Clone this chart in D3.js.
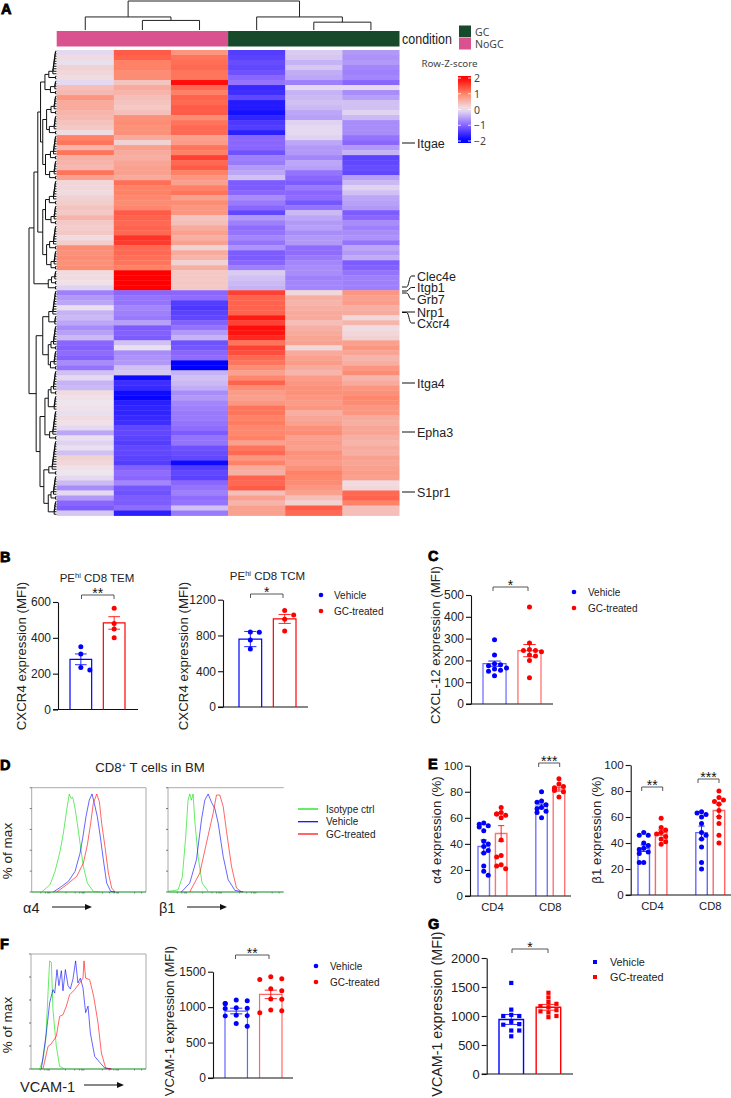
<!DOCTYPE html>
<html><head><meta charset="utf-8">
<style>html,body{margin:0;padding:0;background:#fff}svg{display:block}text{font-family:"Liberation Sans",Arial,sans-serif;fill:#222}</style>
<script src="https://cdn.jsdelivr.net/npm/d3@7/dist/d3.min.js"></script>
</head><body><svg id="c" width="731" height="1098"></svg>
<script>
// ---------- Heatmap data (row z-scores) ----------
const heatColumns = ["NoGC1","NoGC2","NoGC3","GC1","GC2","GC3"];
const z1 = [-0.1,0.1,-0.05,0.2,0.15,0.1,-0.1,0.4,0.45,0.8,0.6,0.6,0.5,0.45,0.35,0.3,0.1,1.0,1.1,0.5,1.1,0.55,0.5,0.45,1.1,0.7,0.15,0.15,0.1,0.2,0.25,0.35,0.3,0.5,0.3,0.25,0.3,0.1,0.25,0.9,0.85,0.9,0.85,0.9,0.1,0.1,0.05,-0.15,
 -0.8,-0.6,-0.5,-0.05,-0.4,-0.35,-0.5,-0.7,-0.55,-0.35,-1.0,-1.05,-0.95,-1.05,-0.7,-0.9,-0.3,-0.1,-0.4,-0.35,0.1,0.05,0,0.05,-0.05,0.1,0.05,-0.1,-0.5,-0.05,-0.15,-0.05,-0.3,0.2,0.15,0.05,0,-0.1,-0.35,-0.7,-0.1,-0.6,-1.0,-1.1,-0.25];
const z2 = [1.3,1.25,1.0,1.0,0.9,0.9,0.35,0.6,0.5,0.4,0.35,0.3,0.4,0.85,0.9,0.85,0.85,0.6,0.2,0.7,0.6,0.55,0.65,0.7,0.7,0.6,1.15,1.0,1.0,0.95,0.9,0.95,1.3,1.25,1.2,1.25,1.2,1.6,1.55,1.2,1.2,1.15,1.1,1.0,2,2,2,2,
 -1.0,-0.9,-0.9,-0.75,-0.8,-0.85,-0.55,-1.1,-1.05,-1.1,-0.3,-0.05,-0.7,-0.65,-0.6,-0.3,-0.25,-1.9,-1.55,-1.6,-1.9,-1.95,-1.7,-1.65,-1.65,-1.6,-1.55,-1.3,-1.3,-1.35,-1.4,-1.3,-1.3,-1.35,-1.4,-1.05,-0.95,-1.0,-0.75,-1.15,-1.2,-1.1,-1.1,-0.95,-1.7];
const z3 = [0.8,1.1,1.15,1.2,1.1,1.1,1.9,1.2,1.0,1.25,1.2,1.3,1.3,0.9,1.1,1.2,1.2,0.7,0.75,1.1,1.0,1.5,1.2,1.3,1.0,0.8,0.7,1.0,1.1,0.7,0.9,0.8,0.8,0.35,0.4,0.6,0.7,0.55,0.7,0.2,0.6,0.5,0.2,0.55,0.3,0.3,0.3,0.3,
 -1.0,-0.95,-1.4,-1.45,-1.35,-1.3,-1.05,-0.9,-0.6,-0.4,-1.2,-1.15,-1.0,-0.95,-2,-2,-0.4,-0.3,-0.35,-0.45,-0.7,-0.6,-0.75,-0.8,-0.85,-0.85,-0.9,-0.95,-1.1,-0.9,-0.9,-1.2,-1.25,-1.3,-1.9,-1.4,-1.3,-1.35,-1.0,-0.9,-0.8,-0.95,-0.9,-0.3,-0.85];
const z4 = [-1.4,-1.35,-1.25,-1.3,-1.2,-1.0,-0.9,-1.6,-1.55,-1.3,-1.75,-1.75,-1.85,-1.65,-1.45,-1.4,-1.7,-1.0,-1.0,-1.0,-1.2,-0.8,-0.85,-0.6,-0.5,-0.3,-1.1,-1.1,-1.0,-0.7,-0.85,-1.0,-1.3,-0.6,-0.8,-0.95,-0.9,-0.75,-0.9,-0.65,-1.1,-1.1,-1.0,-0.8,-0.2,-0.3,-0.35,-0.4,
 1.5,1.25,1.25,1.25,1.25,1.8,1.5,1.9,1.85,1.7,1.1,1.5,1.4,1.2,1.1,0.9,0.7,0.95,1.25,0.9,0.75,0.7,0.8,1.1,1.1,1.0,1.05,0.95,0.95,1.0,0.7,1.1,1.2,0.8,1.0,0.6,0.55,1.25,1.2,1.3,0.4,0.7,0.5,0.7,0.7];
const z5 = [-0.2,-0.25,-0.4,-0.25,-0.45,-0.5,-0.8,-0.1,-0.4,-0.35,-0.3,-0.35,-0.5,-0.55,-0.15,-0.1,-0.1,-0.15,-0.5,-0.6,-0.6,-0.75,-0.5,-0.55,-0.9,-1.0,-1.1,-0.85,-1.0,-0.95,-1.15,-0.9,-0.35,-0.5,-0.6,-0.55,-0.7,-0.6,-0.6,-0.95,-0.95,-0.85,-0.75,-0.7,-0.7,-0.8,-0.75,-0.75,
 0.15,0.55,0.5,0.55,0.6,0.6,0.4,0.55,0.6,0.65,0.7,0.15,0.6,0.7,0.75,0.6,0.5,0.75,0.8,0.85,0.85,0.8,0.75,0.8,0.55,0.65,0.7,0.85,0.9,0.7,0.75,0.7,0.85,0.8,0.75,0.85,1.0,0.95,0.9,0.8,0.7,0.4,0.2,1.3,1.2];
const z6 = [-0.6,-0.65,-0.6,-0.75,-0.8,-0.75,-1.0,-0.1,-0.7,-0.55,-0.3,-0.3,-0.15,-0.35,-0.7,-0.7,-0.7,-0.9,-1.0,-0.6,-0.4,-1.35,-1.3,-1.25,-1.3,-0.55,-0.35,-0.15,-0.3,-0.5,-0.55,-0.6,-1.1,-1.0,-0.7,-0.8,-0.7,-0.65,-0.9,-0.5,-0.6,-0.45,-1.1,-1.05,-0.9,-0.8,-0.8,-0.8,
 0.8,0.7,0.75,0.55,0.6,0.15,0.5,0.1,0.15,0.2,0.7,0.8,0.65,0.5,0.55,0.8,0.9,0.5,0.6,0.8,0.85,0.95,0.9,0.8,0.8,0.6,0.55,0.65,0.65,0.55,0.5,0.6,0.55,0.7,0.65,0.7,0.75,0.7,0.1,0.15,1.2,1.25,1.0,0.4,0.4];
const zLegendTicks = [2,1,0,-1,-2];
const conditionNames = ["GC","NoGC"];
const geneNames = ["Itgae","Clec4e","Itgb1","Grb7","Nrp1","Cxcr4","Itga4","Epha3","S1pr1"];
// dendrograms: [height, child, child]; a bare number is a clade of that many pairs of leaves
const colTree = [1,[0.45,0,[0.33,1,2]],[0.45,3,[0.27,4,5]]];
const A1=[.42,[.28,5,1],[.22,2,1]],A2=[.36,[.2,3,1],[.26,3,1]],A3=[.40,[.22,4,1],[.25,3,1]],B1=[.4,[.26,4,1],[.2,3,1]],B2=[.36,[.25,4,1],[.2,3,1]];
const C1=[.5,[.28,5,2],[.3,[.2,4,1],[.22,3,1]]],D1=[.42,[.3,[.2,4,1],3],[.25,5,1]],E1=[.46,[.28,6,1],[.3,[.2,4,1],3]];
const rowTree = [1,[.82,[.68,[.58,A1,[.5,A2,A3]],[.5,B1,B2]],[.3,[.18,2,1],1]],[.74,C1,[.6,D1,E1]]];

// ---------- Bar panel data ----------
const groups2 = ["Vehicle","GC-treated"];
const legendD = ["Isotype ctrl","Vehicle","GC-treated"];
const bTemVeh=[350,310,235,220], bTemGC=[565,480,450,400];
const bTcmVeh=[840,835,750,650], bTcmGC=[1080,1030,980,850];
const cVeh=[295,225,185,180,175,165,160,155,150,130], cGC=[445,280,250,245,245,240,225,220,200,120];
const e1Cd4Veh=[56,55,54,53,50,42,40,38,35,33,23,19,16], e1Cd4GC=[68,64,63,63,62,60,43,31,30,24,23,21];
const e1Cd8Veh=[80,73,72,70,68,67,65,64,60], e1Cd8GC=[90,86,84,83,82,81,80,76];
const e2Cd4Veh=[48,46,46,40,38,36,35,33,32,25,25], e2Cd4GC=[59,52,50,48,47,45,43,41,39];
const e2Cd8Veh=[64,63,62,60,55,48,46,43,37,25,20], e2Cd8GC=[80,75,73,72,70,65,60,55,46,40];
const fVeh=[1100,1090,1050,1050,990,985,980,885,880,875,770,730], fGC=[1430,1400,1390,1260,1230,1115,1110,960,950,920];
const gVeh=[1570,1110,1020,1000,1000,900,860,850,750,750,650], gGC=[1400,1320,1240,1210,1170,1150,1100,1080,1060,1000,980];

// ---------- Flow cytometry traces (percent of axis width, percent of max) ----------
const d1GreenX=[8.7,16,20.4,24.8,27.7,30.6,32.9,34.4,35.9,37.9,39.9,42.3,45.2,48.7,53.9,59.8], d1GreenY=[0,7,19.7,38.9,56.4,78.7,94,89.8,90.8,80.3,65.9,46.8,24.5,8.6,0.6,0];
const d1BlueX=[19,26.2,32.1,37.9,42.3,44.6,47.5,50.4,52.8,54.8,57.4,59.8,62.7,65.6,69.1,72.9], d1BlueY=[0,5.4,10.2,19.7,37.2,51.6,72.3,88.2,94,85,72.3,54.7,30.8,8.6,0.6,0];
const d1RedX=[21.9,30.6,39.4,45.2,48.7,51.6,53.9,56.9,59.2,61.2,64.1,67.1,70,72.9], d1RedY=[0,7,15,27.7,45.2,65.9,85,94,86.6,65.9,43.6,18.2,3.8,0];
const d2GreenX=[0,8.7,12.4,15.3,17.3,18.8,20.2,21.7,23.1,26,29.5,34.7], d2GreenY=[0.6,2,14.6,53,88,94,88,94,69,34,8.6,0.6];
const d2BlueX=[11.6,18.8,24.6,28.9,31.8,34.7,37.6,40.5,43.4,47.7,52,57.8,65], d2BlueY=[0,8.6,31,69,88,94,86,80,65.9,34,11.8,1.6,0];
const d2RedX=[18.8,27.5,33.2,39,41.9,44.8,47.7,50.6,54.9,59.2,63.6], d2RedY=[0,18.2,46.8,75.5,93,93,82,58,24.5,3.8,0];
const f1GreenX=[7.5,10.4,12.8,14.8,16.2,17.7,19.1,22,24.9,29.3], f1GreenY=[0,8,25,66,94,92.8,51.6,19.7,2.3,0];
const f1BlueX=[9,13.3,16.2,19.1,20.6,22.6,24.3,26.4,27.8,29.9,32.2,34.2,36.5,38.8,40.8,42.9,45.2,47.5,49.6,51.6,55.4,59.7,64.1,69.9], f1BlueY=[0,31,57.4,69,66,86.4,72.5,85.5,68,86.4,72.5,69.6,78.3,94,74.8,79,70.7,49,54.7,31.3,11,5.8,0.9,0];
const f1RedX=[10.4,14.8,17.7,22,24.9,27.8,30.7,33.6,38,42.3,45.2,46.1,47.5,51,54.5,58.3,61.2,64.9,69.9], f1RedY=[0,19.7,22,28.4,45.8,47.2,54.5,64.6,69,74.8,79,94,79,77.7,63.2,40,13.9,0.9,0];

// ---------- Drawing ----------
const svg = d3.select("#c");
const BLUE="#0000ff", RED="#ff0000", GREEN="#00e000", PINK="#d9528f", DKGREEN="#17492b";
function txt(x,y,s,size,o={}){
  const t=svg.append("text").attr("x",x).attr("y",y).attr("font-size",size).text(s);
  if(o.anchor)t.attr("text-anchor",o.anchor);
  if(o.weight)t.attr("font-weight",o.weight);
  if(o.fill)t.style("fill",o.fill);
  if(o.font)t.style("font-family",o.font);
  if(o.rot)t.attr("transform",`rotate(-90 ${x} ${y})`);
  return t;
}
// panel letters
[["A",1,13.5],["B",0,561.5],["C",428,561],["D",0,770],["E",428,769],["F",0,949],["G",428,929]].forEach(d=>
  txt(d[1],d[2],d[0],14.5,{weight:"bold",fill:"#000"}).style("stroke","#000").style("stroke-width",.8));

// heatmap
const heatX=d3.scaleBand().domain(heatColumns).range([56.7,399.5]);
const rowCount=z1.length;
const heatY=d3.scaleBand().domain(d3.range(rowCount)).range([50,515.5]);
const zColor=d3.scaleLinear().domain([-2,-1,0,1,2]).range(["#0000ff","#8a66ff","#eee6ee","#ff8266","#ff0000"]);
[z1,z2,z3,z4,z5,z6].forEach((col,j)=>{
  svg.append("g").selectAll("rect").data(col).join("rect")
   .attr("x",heatX(heatColumns[j])).attr("width",heatX.bandwidth()+(j<5?.4:0))
   .attr("y",(d,i)=>heatY(i)).attr("height",heatY.bandwidth()+.4)
   .attr("fill",d=>zColor(d));
});
// condition bar: NoGC over the first three columns, GC over the last three
[[0,3,PINK],[3,6,DKGREEN]].forEach(b=>svg.append("rect").attr("x",heatX(heatColumns[b[0]])).attr("y",31).attr("width",heatX.bandwidth()*(b[1]-b[0])).attr("height",15.5).attr("fill",b[2]));
txt(402,44,"condition",14).attr("textLength",50).attr("lengthAdjust","spacingAndGlyphs");
const condY=d3.scaleBand().domain(conditionNames).range([25.5,50]);
conditionNames.forEach((c,i)=>{
  svg.append("rect").attr("x",459).attr("y",condY(c)).attr("width",12).attr("height",condY.bandwidth()-.5).attr("fill",i?PINK:DKGREEN);
  txt(475,condY(c)+10,c,10.5,{font:"'Noto Sans',sans-serif",fill:"#444"});
});
txt(421.5,67,"Row-Z-score",9.8,{font:"'Noto Sans',sans-serif",fill:"#444"});
// z legend
const legY=d3.scaleLinear().domain([2,-2]).range([78,141]);
const defs=svg.append("defs"),grad=defs.append("linearGradient").attr("id","zg").attr("x1",0).attr("x2",0).attr("y1",0).attr("y2",1);
d3.range(-2.15,2.2,.25).reverse().forEach((v,i,a)=>grad.append("stop").attr("offset",i/(a.length-1)).attr("stop-color",zColor(Math.max(-2,Math.min(2,v)))));
svg.append("rect").attr("x",458).attr("y",76).attr("width",13).attr("height",67).attr("fill","url(#zg)");
zLegendTicks.forEach(t=>{
  svg.append("line").attr("x1",458).attr("x2",461).attr("y1",legY(t)).attr("y2",legY(t)).attr("stroke","#fff").attr("opacity",.8);
  svg.append("line").attr("x1",468).attr("x2",471).attr("y1",legY(t)).attr("y2",legY(t)).attr("stroke","#fff").attr("opacity",.8);
  txt(t<0?480:477,legY(t)+4,(t<0?"\u2212":"")+Math.abs(t),10.5,{anchor:"middle",font:"'Noto Sans',sans-serif",fill:"#444"});
});
// gene labels
const geneLabelY=[143,276,287.5,299,312,323,383,432,492];
const geneTickY=[143,287,291,293,312,312.5,383,432,492];
geneNames.forEach((g,i)=>{
  const ly=geneLabelY[i],ty=geneTickY[i];
  svg.append("path").attr("fill","none").attr("stroke","#111").attr("stroke-width",1)
   .attr("d",Math.abs(ly-ty)<.1?`M402,${ty}H415`:`M402,${ty}H406.5C409,${ty} 409,${ly} 411.5,${ly}H415`);
  txt(417,ly+4.5,g,12.5);
});
// dendrograms
function layoutTree(node,nextLeaf,depthH){
  return walk(node);
  function walk(n){
    if(typeof n==="number"){ return ladder(n*2); }
    const a=walk(n[1]),b=walk(n[2]);
    return {pos:(a.pos+b.pos)/2,h:n[0],segs:[...a.segs,...b.segs,{h:n[0],a:a.pos,b:b.pos,ah:a.h,bh:b.h}]};
  }
  function ladder(n){
    let cur={pos:nextLeaf(),h:0,segs:[]};
    for(let k=1;k<n;k++){
      const p=nextLeaf(),h=Math.min(depthH(k),0.17);
      cur={pos:(cur.pos+p)/2,h,segs:[...cur.segs,{h,a:cur.pos,b:p,ah:cur.h,bh:0}]};
    }
    return cur;
  }
}
let leafI=0;
const rowH=d3.scaleLinear().domain([0,1]).range([56.5,29]);
const leafY=d3.scaleBand().domain(d3.range(rowCount*2)).range([50,515.5]);
const rowLayout=layoutTree(rowTree,()=>leafY(leafI++)+leafY.bandwidth()/2,k=>0.012*k+0.025);
svg.append("g").selectAll("path").data(rowLayout.segs).join("path").attr("fill","none").attr("stroke","#111").attr("stroke-width",1)
 .attr("d",d=>`M${rowH(d.ah)},${d.a}H${rowH(d.h)}V${d.b}H${rowH(d.bh)}`);
const colH=d3.scaleLinear().domain([0,1]).range([30,1]);
const colPos=c=>heatX(heatColumns[c])+heatX.bandwidth()/2;
function colWalk(n){
  if(typeof n==="number")return{pos:colPos(n),h:0,segs:[]};
  const a=colWalk(n[1]),b=colWalk(n[2]);
  return{pos:(a.pos+b.pos)/2,h:n[0],segs:[...a.segs,...b.segs,{h:n[0],a:a.pos,b:b.pos,ah:a.h,bh:b.h}]};
}
svg.append("g").selectAll("path").data(colWalk(colTree).segs).join("path").attr("fill","none").attr("stroke","#222").attr("stroke-width",1)
 .attr("d",d=>`M${d.a},${colH(d.ah)}V${colH(d.h)}H${d.b}V${colH(d.bh)}`);

// swarm offsets
function swarm(vals,y,bw,r,step){
  const placed=[];
  return vals.map(v=>{
    const py=y(v);
    const cands=[0,1,-1,2,-2,3,-3].map(k=>k*step).filter(o=>Math.abs(o)<=bw/2+1.5);
    let off=cands[cands.length-1];
    for(const o of cands){ if(placed.every(p=>(p.o-o)**2+(p.y-py)**2>=(r*2)**2)){off=o;break;} }
    placed.push({o:off,y:py}); return off;
  });
}
function barPanel(o){
  const y=d3.scaleLinear().domain([0,o.max]).range([o.y0,o.y1]);
  const g=svg.append("g");
  const ax=g.append("g").attr("transform",`translate(${o.x0},0)`).call(d3.axisLeft(y).tickValues(o.ticks).tickFormat(d3.format("d")).tickSize(5).tickSizeOuter(0).tickPadding(2));
  ax.selectAll("line,path").attr("stroke","#111").attr("stroke-width",1.1);
  ax.selectAll("text").attr("font-size",o.tickSize||12).style("fill","#222").attr("font-family",null);
  g.append("line").attr("x1",o.x0-5).attr("x2",o.xEnd).attr("y1",o.y0).attr("y2",o.y0).attr("stroke","#111").attr("stroke-width",1.2);
  const outer=d3.scaleBand().domain(o.cats).range(o.range).paddingInner(o.catPad||0);
  const inner=d3.scaleBand().domain(groups2).range([0,outer.bandwidth()]).paddingInner(o.barPad);
  o.cats.forEach((c,ci)=>groups2.forEach((s,si)=>{
    const col=si?RED:BLUE, x=outer(c)+inner(s), bw=inner.bandwidth(), cx=x+bw/2;
    const v=o.bars[ci][si], e=o.err[ci][si];
    g.append("path").attr("d",`M${x},${o.y0}V${y(v)}H${x+bw}V${o.y0}`).attr("fill","none").attr("stroke",col).attr("stroke-width",o.barW||1.2).attr("stroke-opacity",o.barOp||1);
    g.append("path").attr("d",`M${cx-bw*.27},${y(v+e)}H${cx+bw*.27}M${cx},${y(v+e)}V${y(v-e)}M${cx-bw*.27},${y(v-e)}H${cx+bw*.27}`).attr("fill","none").attr("stroke",col).attr("stroke-width",1).attr("stroke-opacity",.85);
    const vals=o.pts[ci][si], offs=swarm(vals,y,bw,o.r,o.step);
    const sel=g.append("g").selectAll("x").data(vals).join(o.square?"rect":"circle").attr("fill",col);
    if(o.square) sel.attr("x",(d,i)=>cx+offs[i]-o.r).attr("y",d=>y(d)-o.r).attr("width",o.r*2).attr("height",o.r*2);
    else sel.attr("cx",(d,i)=>cx+offs[i]).attr("cy",d=>y(d)).attr("r",o.r);
  }));
  (o.catLabels||[]).forEach((c,i)=>txt(outer(o.cats[i])+outer.bandwidth()/2,o.y0+15,c,11.2,{anchor:"middle"}));
  (o.brackets||[]).forEach(b=>{
    g.append("path").attr("d",`M${b[0]},${b[2]+4}V${b[2]}H${b[1]}V${b[2]+4}`).attr("fill","none").attr("stroke","#444").attr("stroke-width",.9);
    txt((b[0]+b[1])/2,b[2]+2.5,b[3],14,{anchor:"middle",fill:"#111"});
  });
  txt(o.labelX,o.labelY,o.label,o.labelSize||13.3,{anchor:"middle",rot:true});
}
const ones=["x"];
barPanel({x0:58,xEnd:138,y0:709.5,y1:602,max:600,ticks:[0,200,400,600],cats:ones,range:[70,125],barPad:.35,bars:[[280,483]],err:[[30,35]],pts:[[bTemVeh,bTemGC]],r:2.5,step:9,brackets:[[81.5,114,595,"**"]],label:"CXCR4 expression (MFI)",labelX:26,labelY:656});
barPanel({x0:223,xEnd:308,y0:707,y1:599.7,max:1200,ticks:[0,400,800,1200],cats:ones,range:[239,296],barPad:.34,bars:[[760,985]],err:[[85,50]],pts:[[bTcmVeh,bTcmGC]],r:2.5,step:9,brackets:[[250.5,283,594,"*"]],label:"CXCR4 expression (MFI)",labelX:188,labelY:656});
barPanel({x0:471,xEnd:553,y0:704,y1:595,max:500,ticks:[0,100,200,300,400,500],cats:ones,range:[483,541],barPad:.34,bars:[[185,245]],err:[[12,28]],pts:[[cVeh,cGC]],r:2.5,step:6,barOp:.6,brackets:[[493,528,587,"*"]],label:"CXCL-12 expression (MFI)",labelX:440,labelY:645});
barPanel({x0:470,xEnd:571,y0:896,y1:765.7,max:100,ticks:[0,20,40,60,80,100],cats:["CD4","CD8"],catLabels:["CD4","CD8"],range:[478,564.7],catPad:.5,barPad:.34,bars:[[38,48],[69,82]],err:[[5,6],[1.5,1.5]],pts:[[e1Cd4Veh,e1Cd4GC],[e1Cd8Veh,e1Cd8GC]],r:2.5,step:4.5,tickSize:11.6,barOp:.55,barW:1.4,brackets:[[538.7,559.7,763,"***"]],label:"\u03b14 expression (%)",labelX:441,labelY:830});
barPanel({x0:630.7,xEnd:731,y0:895,y1:765,max:100,ticks:[0,20,40,60,80,100],cats:["CD4","CD8"],catLabels:["CD4","CD8"],range:[638,724.7],catPad:.5,barPad:.34,bars:[[36,48],[48,65]],err:[[2.5,2],[5,4.5]],pts:[[e2Cd4Veh,e2Cd4GC],[e2Cd8Veh,e2Cd8GC]],r:2.5,step:4.5,tickSize:11.6,barOp:.6,barW:1.4,brackets:[[641.7,662.7,787,"**"],[698,719,779,"***"]],label:"\u03b21 expression (%)",labelX:601,labelY:830});
barPanel({x0:213,xEnd:293,y0:1078,y1:971.7,max:1500,ticks:[0,500,1000,1500],cats:ones,range:[225,282],barPad:.35,bars:[[945,1180]],err:[[40,60]],pts:[[fVeh,fGC]],r:2.5,step:11,barOp:.6,brackets:[[235.5,269,955,"**"]],label:"VCAM-1 expression (MFI)",labelX:174,labelY:1021,labelSize:13});
barPanel({x0:486.7,xEnd:573,y0:1074,y1:958,max:2000,ticks:[0,500,1000,1500,2000],cats:ones,range:[499,560.7],barPad:.34,bars:[[940,1150]],err:[[85,50]],pts:[[gVeh,gGC]],r:2.1,step:8,square:true,barW:1.4,brackets:[[512,548,949,"*"]],label:"VCAM-1 expression (MFI)",labelX:442,labelY:1014,labelSize:14.3,tickSize:12.9});

// panel B titles
function titleHi(x,y){const t=txt(x,y,"PE",11.5,{anchor:"middle"});t.append("tspan").attr("dy",-4).attr("font-size",7.5).text("hi");return t;}
titleHi(97,581.5).append("tspan").attr("dy",4).text(" CD8 TEM");
titleHi(267.5,580).append("tspan").attr("dy",4).text(" CD8 TCM");
// dot legends
function dotLegend(x,tx,ys,size,square,r=2.3){
  groups2.forEach((s,i)=>{
    if(square)svg.append("rect").attr("x",x-r).attr("y",ys[i]-r).attr("width",2*r).attr("height",2*r).attr("fill",i?RED:BLUE);
    else svg.append("circle").attr("cx",x).attr("cy",ys[i]).attr("r",r).attr("fill",i?RED:BLUE);
    txt(tx,ys[i]+3.5,s,size);
  });
}
dotLegend(321,334,[595,611],10);
dotLegend(574,588,[592,608],10);
dotLegend(316,330,[966,982],10);
dotLegend(595,610,[962,977],10.8,true,2);

// flow plots
function flow(x0,x1,y0,y1,traces,openRight){
  const x=d3.scaleLinear().domain([0,100]).range([x0,x1]), y=d3.scaleLinear().domain([0,100]).range([y0,y1]);
  const g=svg.append("g");
  g.append("path").attr("d",openRight?`M${x1},${y1}H${x0}V${y0}`:`M${x1},${y0}V${y1}H${x0}V${y0}`).attr("fill","none").attr("stroke","#aaa").attr("stroke-width",1);
  [0,20,40,60,80,100].forEach(v=>g.append("line").attr("x1",x0-2).attr("x2",x0).attr("y1",y(v)).attr("y2",y(v)).attr("stroke","#444").attr("stroke-width",.7));
  [8,12,14,15,16,30,38,42,44,45,46,62,68,72,74,75,76,90,96].forEach(v=>g.append("line").attr("x1",x(v)).attr("x2",x(v)).attr("y1",y0).attr("y2",y0+1.5).attr("stroke","#444").attr("stroke-width",.6));
  g.append("line").attr("x1",x0).attr("x2",x1).attr("y1",y0).attr("y2",y0).attr("stroke","#0a8a20").attr("stroke-width",1);
  const ln=d3.line().x(d=>x(d[0])).y(d=>y(d[1]));
  traces.forEach(t=>g.append("path").datum(d3.zip(t[0],t[1])).attr("d",ln).attr("fill","none").attr("stroke",t[2]).attr("stroke-width",.75).attr("stroke-opacity",.8));
}
flow(31.7,146,892,787.7,[[d1GreenX,d1GreenY,GREEN],[d1BlueX,d1BlueY,BLUE],[d1RedX,d1RedY,RED]]);
flow(168,283.7,892,787.7,[[d2GreenX,d2GreenY,GREEN],[d2BlueX,d2BlueY,BLUE],[d2RedX,d2RedY,RED]],true);
flow(31,146,1069,954,[[f1GreenX,f1GreenY,GREEN],[f1BlueX,f1BlueY,BLUE],[f1RedX,f1RedY,RED]]);
const cd=txt(150,772,"CD8",13.2,{anchor:"middle"});cd.append("tspan").attr("dy",-4).attr("font-size",7.5).text("+");cd.append("tspan").attr("dy",4).text(" T cells in BM");
txt(12,851,"% of max",13.5,{anchor:"middle",rot:true});
txt(12,1025,"% of max",13.5,{anchor:"middle",rot:true});
legendD.forEach((s,i)=>{
  const yy=[809,821.7,834][i];
  svg.append("line").attr("x1",298).attr("x2",318).attr("y1",yy).attr("y2",yy).attr("stroke",[GREEN,BLUE,RED][i]).attr("stroke-width",1.2);
  txt(326,yy+3.5,s,10);
});
function arrow(x1,x2,y){
  svg.append("line").attr("x1",x1).attr("x2",x2-4).attr("y1",y).attr("y2",y).attr("stroke","#111").attr("stroke-width",1);
  svg.append("path").attr("d",`M${x2-7},${y-3}L${x2},${y}L${x2-7},${y+3}Z`).attr("fill","#111");
}
txt(23,912.7,"\u03b14",14.5);arrow(52,92,907);
txt(159,912.7,"\u03b21",14.5);arrow(187,227,907);
txt(20,1091.6,"VCAM-1",14.6);arrow(84,124,1085);
</script></body></html>
